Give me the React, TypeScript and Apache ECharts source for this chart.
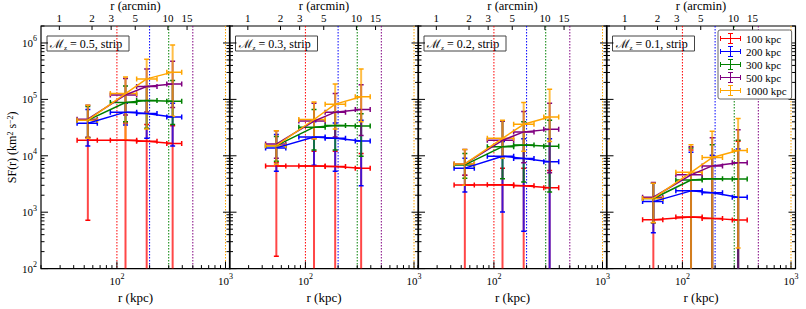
import React, { useEffect, useRef } from 'react';
import * as echarts from 'echarts';

const FONT = '"Liberation Serif", "DejaVu Serif", serif';

// ---------- data ----------
const seriesNames = ['100 kpc', '200 kpc', '300 kpc', '500 kpc', '1000 kpc'];
const seriesColors = ['#ff0000', '#0000ff', '#008000', '#800080', '#ffa500'];
const markerKpc = [100, 200, 300, 500, 1000];
const machLabels = ['0.5', '0.3', '0.2', '0.1'];

// radial bins (kpc)
const rCentre = [54, 120, 188, 326];
const rLow = [43, 87, 152, 288];
const rHigh = [66, 152, 234, 395];

// M_z = 0.5
const sfM05 = [
  [18800, 18800, 18100, 16500],
  [37700, 59400, 56400, 48900],
  [42800, 87900, 95200, 92700],
  [44600, 120000, 169000, 188000],
  [42800, 127000, 231000, 304000],
];
const loM05 = [
  [720, 1, 1, 1],
  [14900, 35200, 20400, 14900],
  [21000, 40200, 30900, 35700],
  [21000, 52800, 60000, 72000],
  [20400, 19000, 30000, 50000],
];
const hiM05 = [
  [21000, 38000, 36000, 34000],
  [66000, 85000, 95000, 85000],
  [75000, 173000, 170000, 217000],
  [79000, 234000, 347000, 475000],
  [79000, 250000, 515000, 925000],
];

// M_z = 0.3
const sfM03 = [
  [6620, 6620, 6450, 6040],
  [13800, 21500, 20400, 18300],
  [15100, 32200, 34400, 33900],
  [16100, 41200, 59400, 66000],
  [15100, 44000, 82400, 111000],
];
const loM03 = [
  [166, 1, 1, 1],
  [5300, 6800, 5300, 2950],
  [8000, 12700, 12700, 9800],
  [9000, 20000, 21500, 22900],
  [7000, 20000, 30000, 40000],
];
const hiM03 = [
  [7500, 12000, 12000, 11000],
  [23800, 40000, 38000, 42800],
  [22000, 66000, 60000, 55700],
  [27900, 85700, 127000, 181000],
  [27900, 90000, 188000, 347000],
];

// M_z = 0.2
const sfM02 = [
  [3030, 3080, 2940, 2720],
  [6040, 9800, 8950, 7850],
  [6890, 14500, 15500, 14700],
  [7160, 18800, 26500, 29400],
  [7160, 20400, 36200, 48900],
];
const loM02 = [
  [1, 1, 1, 1],
  [2270, 1010, 460, 1],
  [4000, 3930, 3440, 2270],
  [4500, 9000, 7550, 5000],
  [3000, 9000, 12000, 18000],
];
const hiM02 = [
  [4500, 6000, 6000, 5500],
  [9000, 18000, 20000, 20000],
  [11000, 41200, 40000, 42800],
  [12900, 41200, 61000, 85700],
  [12900, 42800, 87900, 152000],
];

// M_z = 0.1
const sfM01 = [
  [738, 819, 777, 728],
  [1540, 2390, 2210, 1840],
  [1750, 3720, 3930, 3870],
  [1840, 4590, 6620, 7550],
  [1750, 5100, 9290, 12400],
];
const loM01 = [
  [1, 1, 1, 1],
  [431, 1, 1, 1],
  [650, 1, 1, 1],
  [650, 1, 1, 1],
  [656, 1, 1, 231],
];
const hiM01 = [
  [1790, 12700, 9290, 18100],
  [3270, 11600, 10200, 13200],
  [3270, 13800, 15700, 18800],
  [3360, 14500, 20900, 29000],
  [3270, 15700, 27200, 45800],
];

const panels = [
  { sf: sfM05, lo: loM05, hi: hiM05 },
  { sf: sfM03, lo: loM03, hi: hiM03 },
  { sf: sfM02, lo: loM02, hi: hiM02 },
  { sf: sfM01, lo: loM01, hi: hiM01 },
];

// axes / ticks
const arcminTicks = [1, 2, 3, 5, 10, 15];
const KPC_PER_ARCMIN = 29.5;
const X_MIN = 20;
const X_MAX = 1100;
const Y_MIN = 100;
const Y_MAX = 2e6;
const xMajor = [100, 1000];
const xMinor = [20, 30, 40, 50, 60, 70, 80, 90, 200, 300, 400, 500, 600, 700, 800, 900];
const yMajor = [1e2, 1e3, 1e4, 1e5, 1e6];
const yDecades = [1e2, 1e3, 1e4, 1e5, 1e6];
const yMults = [2, 3, 4, 5, 6, 7, 8, 9];

// layout
const GRID_LEFT = [41, 229.5, 418, 606.5];
const GRID_TOP = 26;
const GRID_W = 189;
const GRID_H = 252;

const powLabel = (v: number) => {
  const e = Math.log10(v);
  const n = Math.round(e);
  return Math.abs(e - n) < 1e-6 ? `{b|10}{sup|${n}}` : '';
};

const supRich = {
  b: { fontSize: 11, lineHeight: 16, fontFamily: FONT, color: '#000' },
  sup: { fontSize: 8, lineHeight: 8, verticalAlign: 'top', fontFamily: FONT, color: '#000' },
};

const ERR_ICON =
  'path://M0,5H21V6H0Z M0,3H1V8H0Z M20,3H21V8H20Z M10,0H11V11H10Z M8,0H13V1H8Z M8,10H13V11H8Z';

const decorRender = (params: any, api: any) => {
  const [xl, yb] = api.coord([X_MIN, Y_MIN]);
  const [xr, yt] = api.coord([X_MAX, Y_MAX]);
  const kids: any[] = [];
  const ln = (x1: number, y1: number, x2: number, y2: number, stroke = '#000', lw = 1, dash?: number[]) => ({
    type: 'line',
    shape: { x1, y1, x2, y2 },
    style: { stroke, lineWidth: lw, lineDash: dash },
    silent: true,
  });
  markerKpc.forEach((r, k) => {
    const x = api.coord([r, Y_MIN])[0];
    kids.push(ln(x, yt, x, yb, seriesColors[k], 1, [1.5, 1.5]));
  });
  xMajor.forEach((r) => {
    const x = api.coord([r, Y_MIN])[0];
    kids.push(ln(x, yb, x, yb - 7));
  });
  xMinor.forEach((r) => {
    const x = api.coord([r, Y_MIN])[0];
    kids.push(ln(x, yb, x, yb - 3.5));
  });
  yMajor.forEach((v) => {
    const y = api.coord([X_MIN, v])[1];
    kids.push(ln(xl, y, xl + 7, y));
    kids.push(ln(xr, y, xr - 7, y));
  });
  yDecades.forEach((d) => {
    yMults.forEach((m) => {
      const v = d * m;
      if (v > Y_MAX) return;
      const y = api.coord([X_MIN, v])[1];
      kids.push(ln(xl, y, xl + 3.5, y));
      kids.push(ln(xr, y, xr - 3.5, y));
    });
  });
  arcminTicks.forEach((a) => {
    const x = api.coord([a * KPC_PER_ARCMIN, Y_MIN])[0];
    kids.push(ln(x, yt, x, yt + 4));
    kids.push({
      type: 'text',
      x,
      y: yt - 8,
      silent: true,
      style: {
        text: String(a),
        fontSize: 11,
        lineHeight: 11,
        fontFamily: FONT,
        fill: '#000',
        align: 'center',
        verticalAlign: 'middle',
      },
    });
  });
  kids.push({
    type: 'text',
    x: (xl + xr) / 2,
    y: yt - 20,
    silent: true,
    style: {
      text: 'r (arcmin)',
      fontSize: 12.5,
      lineHeight: 12,
      fontFamily: FONT,
      fill: '#000',
      align: 'center',
      verticalAlign: 'middle',
    },
  });
  return { type: 'group', children: kids };
};

const errRender = (color: string) => (params: any, api: any) => {
  const x = api.value(0);
  const y = api.value(1);
  const c = api.coord([x, y]);
  const l = api.coord([api.value(2), y]);
  const r = api.coord([api.value(3), y]);
  const lo = api.coord([x, api.value(4)]);
  const hi = api.coord([x, api.value(5)]);
  const cap = 2.5;
  const vs = { stroke: color, lineWidth: 2, opacity: 0.72 };
  const hs = { stroke: color, lineWidth: 1.5 };
  return {
    type: 'group',
    children: [
      { type: 'line', shape: { x1: c[0], y1: lo[1], x2: c[0], y2: hi[1] }, style: vs },
      { type: 'line', shape: { x1: c[0] - cap, y1: lo[1], x2: c[0] + cap, y2: lo[1] }, style: hs },
      { type: 'line', shape: { x1: c[0] - cap, y1: hi[1], x2: c[0] + cap, y2: hi[1] }, style: hs },
      { type: 'line', shape: { x1: l[0], y1: c[1], x2: r[0], y2: c[1] }, style: hs },
      { type: 'line', shape: { x1: l[0], y1: c[1] - cap, x2: l[0], y2: c[1] + cap }, style: hs },
      { type: 'line', shape: { x1: r[0], y1: c[1] - cap, x2: r[0], y2: c[1] + cap }, style: hs },
    ],
  };
};

export default function App() {
  const ref = useRef<HTMLDivElement>(null);
  useEffect(() => {
    if (!ref.current) return;
    const chart = echarts.init(ref.current, undefined, { renderer: 'svg' });

    const grid = GRID_LEFT.map((left) => ({
      left,
      top: GRID_TOP,
      width: GRID_W,
      height: GRID_H,
      show: true,
      borderColor: '#000',
      borderWidth: 1.2,
      backgroundColor: 'transparent',
    }));

    const xAxis = GRID_LEFT.map((_, i) => ({
      type: 'log',
      logBase: 10,
      gridIndex: i,
      min: X_MIN,
      max: X_MAX,
      axisLine: { show: false },
      axisTick: { show: false },
      minorTick: { show: false },
      splitLine: { show: false },
      axisLabel: { formatter: powLabel, margin: 4, rich: supRich, fontFamily: FONT, color: '#000' },
      name: 'r (kpc)',
      nameLocation: 'middle',
      nameGap: 17,
      nameTextStyle: { fontFamily: FONT, fontSize: 13, color: '#000' },
    }));

    const yAxis = GRID_LEFT.map((_, i) => ({
      type: 'log',
      logBase: 10,
      gridIndex: i,
      min: Y_MIN,
      max: Y_MAX,
      axisLine: { show: false },
      axisTick: { show: false },
      minorTick: { show: false },
      splitLine: { show: false },
      axisLabel: {
        show: i === 0,
        formatter: powLabel,
        margin: 4,
        rich: supRich,
        fontFamily: FONT,
        color: '#000',
      },
      name: i === 0 ? 'SF(r) (km{sup|2} s{sup|−2})' : '',
      nameLocation: 'middle',
      nameGap: 23,
      nameTextStyle: {
        fontFamily: FONT,
        fontSize: 12,
        color: '#000',
        rich: {
          sup: { fontSize: 8, lineHeight: 8, verticalAlign: 'top', fontFamily: FONT, color: '#000' },
        },
      },
    }));

    const series: any[] = [];
    panels.forEach((p, pi) => {
      series.push({
        type: 'custom',
        xAxisIndex: pi,
        yAxisIndex: pi,
        silent: true,
        clip: false,
        z: 1,
        data: [[X_MIN, Y_MIN]],
        encode: { x: 0, y: 1 },
        renderItem: decorRender,
      });
    });
    panels.forEach((p, pi) => {
      seriesNames.forEach((name, si) => {
        const color = seriesColors[si];
        series.push({
          type: 'custom',
          name,
          xAxisIndex: pi,
          yAxisIndex: pi,
          clip: true,
          z: 2,
          itemStyle: { color },
          data: rCentre.map((r, k) => [r, p.sf[si][k], rLow[k], rHigh[k], p.lo[si][k], p.hi[si][k]]),
          encode: { x: 0, y: 1 },
          renderItem: errRender(color),
        });
        series.push({
          type: 'line',
          name,
          xAxisIndex: pi,
          yAxisIndex: pi,
          z: 2,
          symbol: 'none',
          itemStyle: { color },
          lineStyle: { color, width: 1.5 },
          data: rCentre.map((r, k) => [r, p.sf[si][k]]),
        });
      });
    });

    const graphic = GRID_LEFT.map((gl, i) => ({
      type: 'group',
      x: gl + 6,
      y: 36,
      silent: true,
      children: [
        {
          type: 'rect',
          shape: { x: 0, y: 0, width: 82, height: 15 },
          style: { fill: '#fff', stroke: '#444', lineWidth: 1 },
        },
        {
          type: 'text',
          x: 3,
          y: 8,
          style: {
            text: `{m|ℳ}{s|z} = ${machLabels[i]}, strip`,
            fontSize: 12,
            fontFamily: FONT,
            fill: '#000',
            verticalAlign: 'middle',
            rich: {
              m: { fontSize: 12, fontFamily: FONT, fill: '#000', lineHeight: 14 },
              s: { fontSize: 7, fontFamily: FONT, fill: '#000', verticalAlign: 'bottom', lineHeight: 7 },
            },
          },
        },
      ],
    }));

    chart.setOption({
      animation: false,
      backgroundColor: '#fff',
      grid,
      xAxis,
      yAxis,
      legend: {
        data: seriesNames.map((n) => ({ name: n, icon: ERR_ICON })),
        orient: 'vertical',
        left: 718,
        top: 30,
        itemWidth: 21,
        itemHeight: 11,
        itemGap: 2,
        backgroundColor: '#fff',
        borderColor: '#666',
        borderWidth: 1,
        borderRadius: 2,
        padding: [3, 5, 3, 2],
        textStyle: { fontFamily: FONT, fontSize: 11, color: '#000' },
        selectedMode: false,
      },
      graphic,
      series,
    });
    return () => chart.dispose();
  }, []);
  return <div ref={ref} style={{ width: 806, height: 309, position: 'absolute', left: 0, top: 0 }} />;
}
